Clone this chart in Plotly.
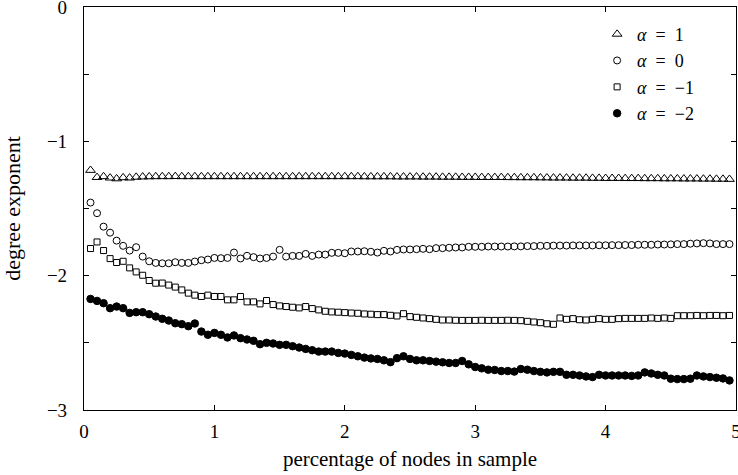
import plotly.graph_objects as go

x_pct = [0.05, 0.10, 0.15, 0.20, 0.25, 0.30, 0.35, 0.40, 0.45, 0.50,
         0.55, 0.60, 0.65, 0.70, 0.75, 0.80, 0.85, 0.90, 0.95, 1.00,
         1.05, 1.10, 1.15, 1.20, 1.25, 1.30, 1.35, 1.40, 1.45, 1.50,
         1.55, 1.60, 1.65, 1.70, 1.75, 1.80, 1.85, 1.90, 1.95, 2.00,
         2.05, 2.10, 2.15, 2.20, 2.25, 2.30, 2.35, 2.40, 2.45, 2.50,
         2.55, 2.60, 2.65, 2.70, 2.75, 2.80, 2.85, 2.90, 2.95, 3.00,
         3.05, 3.10, 3.15, 3.20, 3.25, 3.30, 3.35, 3.40, 3.45, 3.50,
         3.55, 3.60, 3.65, 3.70, 3.75, 3.80, 3.85, 3.90, 3.95, 4.00,
         4.05, 4.10, 4.15, 4.20, 4.25, 4.30, 4.35, 4.40, 4.45, 4.50,
         4.55, 4.60, 4.65, 4.70, 4.75, 4.80, 4.85, 4.90, 4.95]

alpha_p1 = [-1.215, -1.268, -1.262, -1.272, -1.278, -1.270, -1.272, -1.266, -1.264, -1.263,
            -1.262, -1.262, -1.262, -1.261, -1.262, -1.262, -1.262, -1.262, -1.262, -1.262,
            -1.262, -1.262, -1.262, -1.262, -1.262, -1.262, -1.262, -1.262, -1.262, -1.262,
            -1.262, -1.262, -1.262, -1.262, -1.262, -1.262, -1.262, -1.262, -1.262, -1.262,
            -1.262, -1.262, -1.263, -1.263, -1.263, -1.263, -1.263, -1.264, -1.264, -1.264,
            -1.264, -1.265, -1.265, -1.265, -1.266, -1.266, -1.266, -1.267, -1.267, -1.267,
            -1.268, -1.268, -1.268, -1.268, -1.269, -1.269, -1.270, -1.270, -1.270, -1.271,
            -1.271, -1.272, -1.272, -1.272, -1.273, -1.273, -1.273, -1.274, -1.274, -1.275,
            -1.275, -1.275, -1.276, -1.276, -1.276, -1.277, -1.277, -1.277, -1.278, -1.278,
            -1.278, -1.279, -1.279, -1.279, -1.280, -1.280, -1.281, -1.281, -1.282]

alpha_0 = [-1.456, -1.535, -1.635, -1.680, -1.739, -1.778, -1.813, -1.788, -1.858, -1.893,
           -1.905, -1.908, -1.908, -1.900, -1.905, -1.905, -1.895, -1.885, -1.880, -1.868,
           -1.870, -1.868, -1.828, -1.872, -1.852, -1.862, -1.872, -1.868, -1.858, -1.808,
           -1.858, -1.853, -1.853, -1.838, -1.853, -1.843, -1.843, -1.830, -1.830, -1.833,
           -1.820, -1.820, -1.818, -1.822, -1.828, -1.815, -1.820, -1.808, -1.805, -1.805,
           -1.803, -1.800, -1.803, -1.795, -1.795, -1.792, -1.790, -1.790, -1.785, -1.785,
           -1.785, -1.783, -1.783, -1.783, -1.783, -1.782, -1.782, -1.780, -1.780, -1.778,
           -1.778, -1.776, -1.776, -1.776, -1.775, -1.775, -1.775, -1.775, -1.774, -1.774,
           -1.773, -1.773, -1.772, -1.772, -1.770, -1.770, -1.770, -1.768, -1.768, -1.767,
           -1.765, -1.765, -1.762, -1.760, -1.758, -1.760, -1.765, -1.765, -1.765]

alpha_m1 = [-1.798, -1.749, -1.813, -1.873, -1.902, -1.893, -1.942, -1.972, -1.997, -2.036,
            -2.056, -2.055, -2.070, -2.085, -2.106, -2.130, -2.145, -2.155, -2.145, -2.155,
            -2.155, -2.180, -2.180, -2.155, -2.195, -2.195, -2.210, -2.185, -2.215, -2.225,
            -2.230, -2.235, -2.240, -2.230, -2.245, -2.255, -2.265, -2.270, -2.272, -2.275,
            -2.278, -2.280, -2.285, -2.287, -2.290, -2.290, -2.295, -2.300, -2.283, -2.305,
            -2.310, -2.315, -2.320, -2.325, -2.330, -2.330, -2.332, -2.333, -2.333, -2.333,
            -2.332, -2.333, -2.333, -2.333, -2.332, -2.333, -2.335, -2.340, -2.345, -2.350,
            -2.358, -2.362, -2.315, -2.325, -2.320, -2.328, -2.330, -2.325, -2.320, -2.325,
            -2.325, -2.320, -2.318, -2.318, -2.318, -2.318, -2.315, -2.318, -2.315, -2.318,
            -2.298, -2.298, -2.298, -2.296, -2.298, -2.296, -2.296, -2.298, -2.296]

alpha_m2 = [-2.173, -2.188, -2.205, -2.242, -2.230, -2.242, -2.277, -2.272, -2.272, -2.287,
            -2.304, -2.321, -2.334, -2.354, -2.361, -2.376, -2.356, -2.416, -2.440, -2.426,
            -2.440, -2.460, -2.445, -2.465, -2.475, -2.485, -2.510, -2.500, -2.505, -2.515,
            -2.515, -2.525, -2.535, -2.545, -2.555, -2.565, -2.565, -2.565, -2.575, -2.580,
            -2.590, -2.600, -2.610, -2.616, -2.620, -2.630, -2.644, -2.614, -2.600, -2.620,
            -2.630, -2.630, -2.635, -2.640, -2.645, -2.650, -2.650, -2.635, -2.660, -2.680,
            -2.690, -2.700, -2.702, -2.710, -2.710, -2.714, -2.695, -2.700, -2.710, -2.716,
            -2.720, -2.716, -2.716, -2.738, -2.738, -2.743, -2.750, -2.755, -2.738, -2.743,
            -2.743, -2.743, -2.743, -2.746, -2.743, -2.720, -2.728, -2.738, -2.743, -2.767,
            -2.770, -2.770, -2.767, -2.743, -2.750, -2.755, -2.760, -2.765, -2.780]

EQ = "\u2002=\u2002"
series = [
    ("<i>α</i>" + EQ + "1", alpha_p1, "triangle-up-open", 8.5),
    ("<i>α</i>" + EQ + "0", alpha_0, "circle-open", 7),
    ("<i>α</i>" + EQ + "−1", alpha_m1, "square-open", 6),
    ("<i>α</i>" + EQ + "−2", alpha_m2, "circle", 7.5),
]

FONT = "Liberation Serif"

fig = go.Figure()
for name, ys, sym, sz in series:
    fig.add_trace(go.Scatter(
        x=x_pct, y=ys, mode="markers", name=name,
        marker=dict(symbol=sym, size=sz, color="black",
                    line=dict(color="black", width=1)),
    ))

y_ticks = [-3, -2.5, -2, -1.5, -1, -0.5, 0]
y_text = ["−3", "", "−2", "", "−1", "", "0"]

fig.update_layout(
    width=738, height=475,
    margin=dict(l=84, r=2, t=7, b=65, autoexpand=False),
    paper_bgcolor="white", plot_bgcolor="white",
    font=dict(family=FONT, size=19, color="black"),
    showlegend=True,
    legend=dict(x=0.787, y=0.978, xanchor="left", yanchor="top",
                bgcolor="rgba(0,0,0,0)", font=dict(family=FONT, size=18),
                itemwidth=30, tracegroupgap=0),
    xaxis=dict(range=[0, 5], tickvals=[0, 1, 2, 3, 4, 5],
               ticktext=["0", "1", "2", "3", "4", "5"],
               ticks="inside", ticklen=5, tickcolor="black", tickwidth=1,
               showline=True, linecolor="black", linewidth=1.2, mirror="allticks",
               showgrid=False, zeroline=False, automargin=False,
               ticklabelstandoff=4, ticklabeloverflow="allow",
               title=dict(text="percentage of nodes in sample", standoff=10,
                          font=dict(family=FONT, size=21))),
    yaxis=dict(range=[-3, 0], tickvals=y_ticks, ticktext=y_text,
               ticks="inside", ticklen=5, tickcolor="black", tickwidth=1,
               showline=True, linecolor="black", linewidth=1.2, mirror="allticks",
               showgrid=False, zeroline=False, ticklabelstandoff=12, automargin=False,
               ticklabeloverflow="allow",
               title=dict(text="degree exponent", standoff=22,
                          font=dict(family=FONT, size=22))),
)

fig.write_html("out.html", config={"displayModeBar": False},
               post_script="document.body.style.margin='0';document.body.style.overflow='hidden';")
